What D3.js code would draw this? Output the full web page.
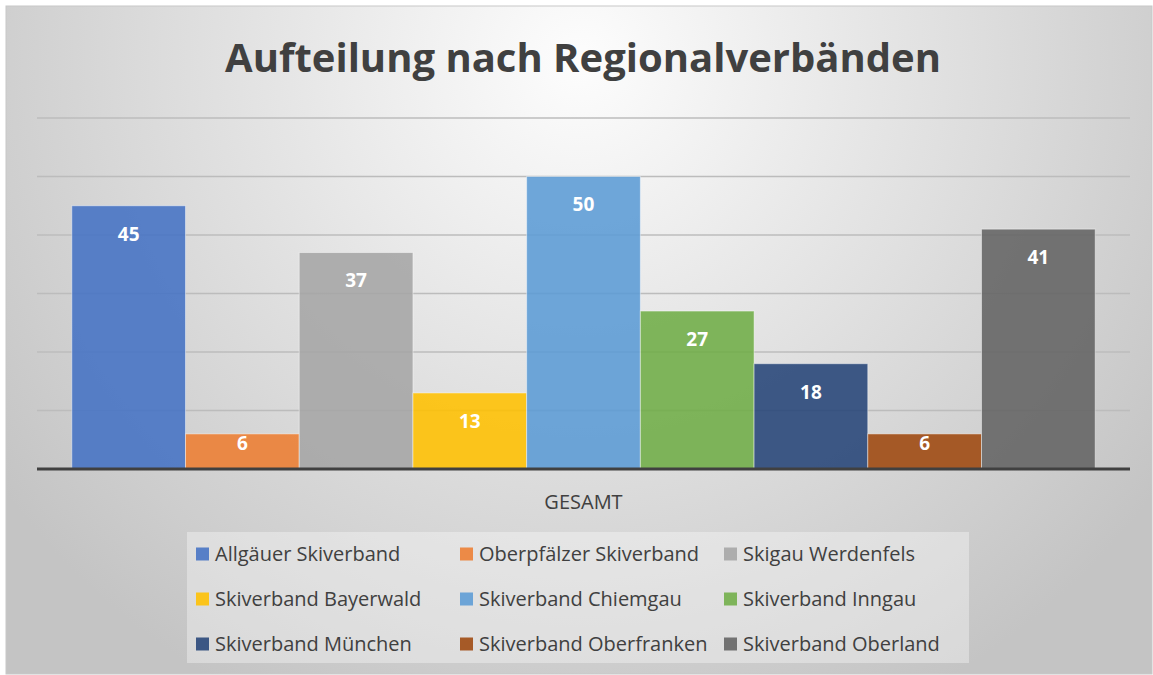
<!DOCTYPE html>
<html>
<head>
	<meta charset="utf-8">
	<title>Aufteilung nach Regionalverbänden</title>
	<script src="https://d3js.org/d3.v7.min.js" charset="utf-8"></script>
	<style>
		body { margin: 0; background: #fff; }
		text { font-family: "Open Sans", sans-serif; }
	</style>
</head>
<body>
	<svg width="1153" height="675"></svg>
	<script>
		// data
		const categories = ["GESAMT"];
		const series = ["Allgäuer Skiverband", "Oberpfälzer Skiverband", "Skigau Werdenfels",
			"Skiverband Bayerwald", "Skiverband Chiemgau", "Skiverband Inngau",
			"Skiverband München", "Skiverband Oberfranken", "Skiverband Oberland"];
		const values = [45, 6, 37, 13, 50, 27, 18, 6, 41];
		const colors = ["#4472C4", "#ED7D31", "#A5A5A5", "#FFC000", "#5B9BD5",
			"#70AD47", "#264478", "#9E480E", "#636363"];
		const yTicks = [0, 10, 20, 30, 40, 50, 60];

		const svg = d3.select('svg');

		// background panel
		const defs = svg.append('defs');
		const grad = defs.append('radialGradient')
			.attr('id', 'bg')
			.attr('gradientUnits', 'userSpaceOnUse')
			.attr('cx', 580).attr('cy', 60).attr('r', 720);
		grad.append('stop').attr('offset', '0%').attr('stop-color', '#fdfdfd');
		grad.append('stop').attr('offset', '100%').attr('stop-color', '#c4c4c4');

		svg.append('rect')
			.attr('x', 6).attr('y', 6)
			.attr('width', 1146).attr('height', 668)
			.attr('fill', 'url(#bg)')
			.attr('stroke', '#c8c8c8');

		// title
		svg.append('text')
			.attr('x', 583).attr('y', 72)
			.attr('text-anchor', 'middle')
			.style('font-size', '40px')
			.style('font-weight', 'bold')
			.style('fill', '#404040')
			.text('Aufteilung nach Regionalverbänden');

		// scales
		const plot = { left: 37, right: 1130, top: 118, bottom: 469 };

		const x0 = d3.scaleBand()
			.domain(categories)
			.range([plot.left, plot.right])
			.paddingInner(0)
			.paddingOuter(0.034);

		const x1 = d3.scaleBand()
			.domain(series)
			.range([0, x0.bandwidth()]);

		const y = d3.scaleLinear()
			.domain([0, 60])
			.range([plot.bottom, plot.top]);

		// gridlines
		svg.append('g')
			.selectAll('line')
			.data(yTicks.slice(1))
			.enter()
			.append('line')
			.attr('x1', plot.left).attr('x2', plot.right)
			.attr('y1', d => y(d)).attr('y2', d => y(d))
			.attr('stroke', '#bcbcbc')
			.attr('stroke-width', 1.5);

		// bars
		const bars = svg.append('g')
			.attr('transform', `translate(${x0(categories[0])},0)`);

		bars.selectAll('rect')
			.data(values)
			.enter()
			.append('rect')
			.attr('x', (d, i) => x1(series[i]))
			.attr('y', d => y(d))
			.attr('width', x1.bandwidth())
			.attr('height', d => y(0) - y(d))
			.attr('fill', (d, i) => colors[i])
			.attr('fill-opacity', 0.88)
			.attr('stroke', 'rgba(255,255,255,0.45)')
			.attr('stroke-width', 1);

		// labels sit inside the bar end, pushed up when the bar is short
		bars.selectAll('text')
			.data(values)
			.enter()
			.append('text')
			.attr('x', (d, i) => x1(series[i]) + x1.bandwidth() / 2)
			.attr('y', d => y(d) + Math.min(28, (y(0) - y(d)) - 26))
			.attr('dy', '0.36em')
			.attr('text-anchor', 'middle')
			.style('font-size', '19px')
			.style('font-weight', 'bold')
			.style('fill', '#ffffff')
			.text(d => d);

		// x axis
		svg.append('line')
			.attr('x1', plot.left).attr('x2', plot.right)
			.attr('y1', y(0)).attr('y2', y(0))
			.attr('stroke', '#404040')
			.attr('stroke-width', 3);

		svg.append('text')
			.attr('x', x0(categories[0]) + x0.bandwidth() / 2)
			.attr('y', 509)
			.attr('text-anchor', 'middle')
			.style('font-size', '20px')
			.style('fill', '#404040')
			.text(categories[0]);

		// legend
		const legend = svg.append('g');
		legend.append('rect')
			.attr('x', 187).attr('y', 532)
			.attr('width', 782).attr('height', 131)
			.attr('fill', '#ffffff')
			.attr('fill-opacity', 0.35);

		const colX = [196, 460, 724];
		const rowY = [554, 599, 644];

		const item = legend.selectAll('g.item')
			.data(series)
			.enter()
			.append('g')
			.attr('class', 'item')
			.attr('transform', (d, i) => `translate(${colX[i % 3]},${rowY[Math.floor(i / 3)]})`);

		item.append('rect')
			.attr('x', 0).attr('y', -6.5)
			.attr('width', 13).attr('height', 13)
			.attr('fill', (d, i) => colors[i])
			.attr('fill-opacity', 0.88);

		item.append('text')
			.attr('x', 19).attr('y', 7)
			.style('font-size', '20px')
			.style('fill', '#404040')
			.text(d => d);
	</script>
</body>
</html>
